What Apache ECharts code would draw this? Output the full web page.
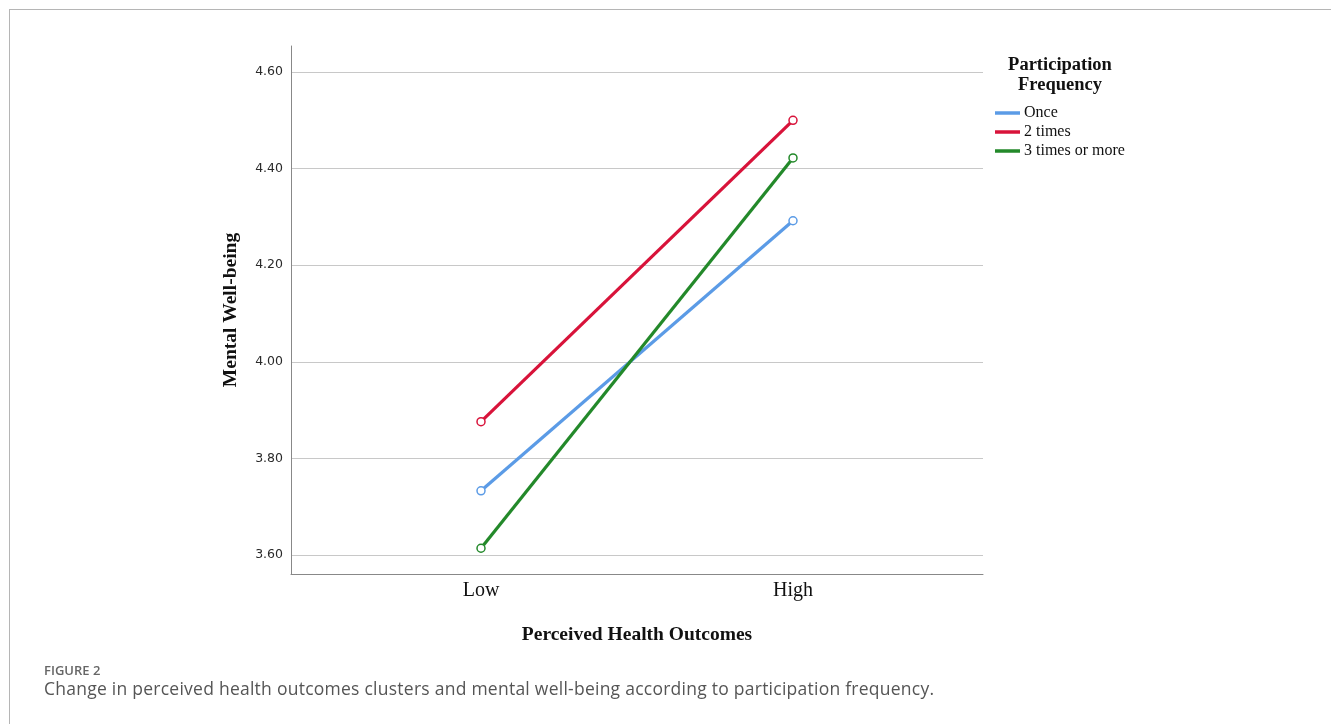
<!DOCTYPE html>
<html>
<head>
<meta charset="utf-8">
<script src="https://cdn.jsdelivr.net/npm/echarts@6/dist/echarts.min.js"></script>
<style>
html,body{margin:0;padding:0;background:#fff;}
#frame{position:absolute;left:9px;top:9px;width:1322px;height:715px;border-top:1px solid #b5b5b5;border-left:1px solid #b5b5b5;}
#chart{position:absolute;left:0;top:0;width:1331px;height:724px;}
#cap1{position:absolute;left:44px;top:664px;font-family:"Open Sans",sans-serif;font-weight:600;font-size:13px;line-height:1;color:#666;}
#cap2{position:absolute;left:44px;top:680px;font-family:"Open Sans",sans-serif;font-size:17.5px;line-height:1;color:#555;letter-spacing:0.25px;white-space:nowrap;}
</style>
</head>
<body>
<div id="frame"></div>
<div id="chart"></div>
<div id="cap1">FIGURE 2</div>
<div id="cap2">Change in perceived health outcomes clusters and mental well-being according to participation frequency.</div>
<script>
const categories = ['Low', 'High'];
const seriesNames = ['Once', '2 times', '3 times or more'];
const onceValues = [3.733, 4.292];
const twoTimesValues = [3.876, 4.500];
const threePlusValues = [3.614, 4.422];
const yTickValues = [3.60, 3.80, 4.00, 4.20, 4.40, 4.60];
const colors = ['#5b9be6', '#d8133a', '#23892a'];

const allValues = [onceValues, twoTimesValues, threePlusValues];
const serif = '"Liberation Serif","Times New Roman",serif';

const chart = echarts.init(document.getElementById('chart'));
chart.setOption({
  animation: false,
  title: {
    text: 'Participation\nFrequency',
    left: 1055, top: 50, textAlign: 'center',
    textStyle: { fontFamily: serif, fontWeight: 'bold', fontSize: 18.5, lineHeight: 20, color: '#111' }
  },
  legend: {
    orient: 'vertical', left: 990, top: 100,
    itemWidth: 25, itemHeight: 3.5, itemGap: 3,
    icon: 'rect',
    data: seriesNames.map((n, i) => ({ name: n, itemStyle: { color: colors[i], borderWidth: 0 } })),
    textStyle: { fontFamily: serif, fontSize: 16, color: '#111', padding: [0, 0, 0, -1] }
  },
  grid: { left: 291, right: 348, top: 46, bottom: 150, containLabel: false },
  xAxis: {
    type: 'value', min: -0.609, max: 1.609,
    name: 'Perceived Health Outcomes', nameLocation: 'middle', nameGap: 51,
    nameTextStyle: { fontFamily: serif, fontWeight: 'bold', fontSize: 19.5, color: '#111' },
    axisLine: { show: true, onZero: false, lineStyle: { color: '#888', width: 1 } },
    axisTick: { show: false, customValues: [0, 1] },
    splitLine: { show: false },
    axisLabel: {
      customValues: [0, 1], margin: 7,
      formatter: v => categories[Math.round(v)],
      fontFamily: serif, fontSize: 20, color: '#111'
    }
  },
  yAxis: {
    type: 'value', min: 3.5607, max: 4.6538,
    name: 'Mental Well-being', nameLocation: 'middle', nameGap: 50, nameRotate: 90,
    nameTextStyle: { fontFamily: serif, fontWeight: 'bold', fontSize: 19.5, color: '#111' },
    axisLine: { show: true, onZero: false, lineStyle: { color: '#888', width: 1 } },
    axisTick: { show: false, customValues: yTickValues },
    splitLine: { show: true, lineStyle: { color: '#c8c8c8', width: 1 } },
    axisLabel: {
      customValues: yTickValues, margin: 8,
      formatter: v => v.toFixed(2),
      fontFamily: '"DejaVu Sans",sans-serif', fontSize: 12.5, color: '#2a2a2a'
    }
  },
  series: seriesNames.map((name, i) => ({
    name, type: 'line',
    data: categories.map((c, j) => [j, allValues[i][j]]),
    symbol: 'circle', symbolSize: 8,
    itemStyle: { color: '#fff', borderColor: colors[i], borderWidth: 1.5 },
    lineStyle: { color: colors[i], width: 3.2 },
    emphasis: { disabled: true }
  }))
});
</script>
</body>
</html>
